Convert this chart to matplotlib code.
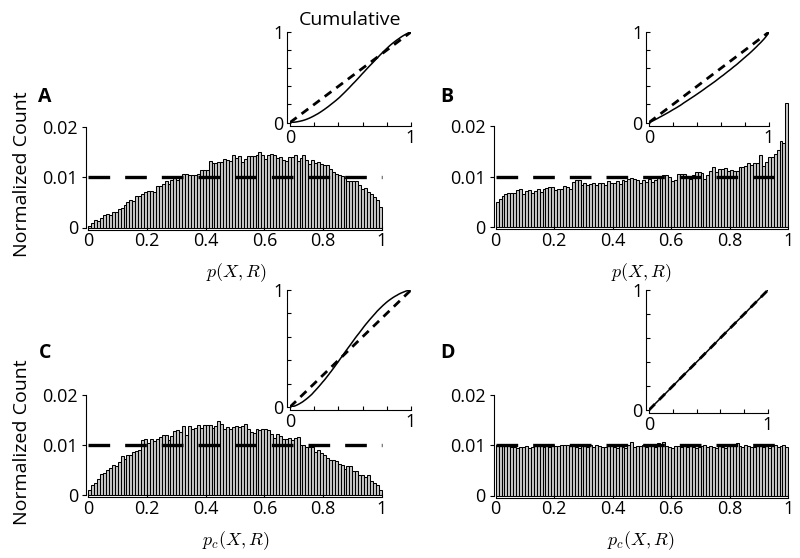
# гистограммы p(X,R) и p_c(X,R) со вставками кумулятивных распределений

import numpy as np
import matplotlib.pyplot as plt

plt.rcParams['font.family'] = ['Open Sans', 'DejaVu Sans']
plt.rcParams['mathtext.fontset'] = 'cm'

# значения столбцов (ширина 0.01)
hist_a = [0.0003, 0.0009, 0.0014, 0.0013, 0.0018, 0.0024, 0.0026, 0.0025, 0.0031, 0.0031,
          0.0037, 0.0039, 0.0045, 0.0050, 0.0055, 0.0052, 0.0063, 0.0063, 0.0067, 0.0070,
          0.0073, 0.0073, 0.0071, 0.0083, 0.0083, 0.0087, 0.0092, 0.0087, 0.0094, 0.0098,
          0.0095, 0.0100, 0.0105, 0.0106, 0.0104, 0.0104, 0.0104, 0.0106, 0.0113, 0.0113,
          0.0114, 0.0131, 0.0128, 0.0127, 0.0129, 0.0130, 0.0135, 0.0134, 0.0132, 0.0144,
          0.0138, 0.0142, 0.0129, 0.0136, 0.0141, 0.0142, 0.0142, 0.0144, 0.0149, 0.0144,
          0.0136, 0.0143, 0.0146, 0.0143, 0.0138, 0.0140, 0.0134, 0.0131, 0.0139, 0.0140,
          0.0143, 0.0131, 0.0138, 0.0143, 0.0134, 0.0126, 0.0133, 0.0128, 0.0129, 0.0125,
          0.0124, 0.0123, 0.0116, 0.0110, 0.0106, 0.0104, 0.0102, 0.0098, 0.0092, 0.0092,
          0.0093, 0.0092, 0.0085, 0.0077, 0.0079, 0.0070, 0.0066, 0.0060, 0.0055, 0.0041]

hist_b = [0.0050, 0.0055, 0.0062, 0.0065, 0.0068, 0.0067, 0.0067, 0.0073, 0.0075, 0.0066,
          0.0072, 0.0073, 0.0068, 0.0072, 0.0076, 0.0070, 0.0075, 0.0077, 0.0080, 0.0079,
          0.0073, 0.0075, 0.0075, 0.0081, 0.0080, 0.0076, 0.0090, 0.0093, 0.0094, 0.0083,
          0.0087, 0.0083, 0.0085, 0.0087, 0.0083, 0.0087, 0.0087, 0.0083, 0.0092, 0.0088,
          0.0088, 0.0092, 0.0085, 0.0094, 0.0091, 0.0095, 0.0097, 0.0096, 0.0093, 0.0088,
          0.0093, 0.0090, 0.0096, 0.0090, 0.0093, 0.0101, 0.0100, 0.0102, 0.0102, 0.0100,
          0.0092, 0.0094, 0.0105, 0.0105, 0.0105, 0.0101, 0.0096, 0.0102, 0.0108, 0.0108,
          0.0106, 0.0096, 0.0103, 0.0111, 0.0118, 0.0108, 0.0115, 0.0114, 0.0116, 0.0110,
          0.0113, 0.0111, 0.0110, 0.0118, 0.0118, 0.0121, 0.0127, 0.0123, 0.0126, 0.0127,
          0.0142, 0.0121, 0.0129, 0.0138, 0.0139, 0.0144, 0.0153, 0.0170, 0.0165, 0.0245]

hist_c = [0.0010, 0.0020, 0.0025, 0.0032, 0.0042, 0.0045, 0.0050, 0.0055, 0.0060, 0.0059,
          0.0067, 0.0079, 0.0072, 0.0081, 0.0081, 0.0087, 0.0089, 0.0090, 0.0110, 0.0112,
          0.0104, 0.0113, 0.0109, 0.0113, 0.0117, 0.0120, 0.0121, 0.0110, 0.0119, 0.0128,
          0.0130, 0.0127, 0.0139, 0.0121, 0.0138, 0.0132, 0.0135, 0.0141, 0.0135, 0.0140,
          0.0141, 0.0141, 0.0135, 0.0139, 0.0149, 0.0142, 0.0133, 0.0137, 0.0133, 0.0137,
          0.0139, 0.0137, 0.0138, 0.0142, 0.0132, 0.0127, 0.0125, 0.0133, 0.0130, 0.0133,
          0.0132, 0.0130, 0.0123, 0.0115, 0.0123, 0.0118, 0.0113, 0.0112, 0.0115, 0.0110,
          0.0115, 0.0117, 0.0100, 0.0100, 0.0097, 0.0097, 0.0097, 0.0087, 0.0090, 0.0085,
          0.0081, 0.0075, 0.0070, 0.0070, 0.0069, 0.0063, 0.0061, 0.0052, 0.0059, 0.0059,
          0.0048, 0.0048, 0.0040, 0.0040, 0.0037, 0.0040, 0.0028, 0.0025, 0.0021, 0.0011]

hist_d = [0.0100, 0.0100, 0.0099, 0.0098, 0.0100, 0.0097, 0.0096, 0.0095, 0.0097, 0.0096,
          0.0098, 0.0094, 0.0097, 0.0100, 0.0098, 0.0099, 0.0097, 0.0100, 0.0096, 0.0101,
          0.0099, 0.0098, 0.0100, 0.0101, 0.0100, 0.0099, 0.0098, 0.0097, 0.0095, 0.0099,
          0.0098, 0.0096, 0.0100, 0.0097, 0.0101, 0.0098, 0.0097, 0.0096, 0.0098, 0.0100,
          0.0097, 0.0095, 0.0099, 0.0096, 0.0094, 0.0100, 0.0107, 0.0097, 0.0099, 0.0098,
          0.0100, 0.0096, 0.0098, 0.0099, 0.0097, 0.0104, 0.0101, 0.0106, 0.0099, 0.0097,
          0.0095, 0.0099, 0.0098, 0.0097, 0.0100, 0.0096, 0.0098, 0.0097, 0.0095, 0.0096,
          0.0098, 0.0101, 0.0097, 0.0099, 0.0096, 0.0094, 0.0098, 0.0097, 0.0095, 0.0099,
          0.0098, 0.0100, 0.0105, 0.0099, 0.0097, 0.0101, 0.0098, 0.0096, 0.0097, 0.0098,
          0.0102, 0.0097, 0.0099, 0.0095, 0.0098, 0.0100, 0.0097, 0.0099, 0.0101, 0.0096]

letters = ['A', 'B', 'C', 'D']
xlabels = [r'$p(X,R)$', r'$p(X,R)$', r'$p_c(X,R)$', r'$p_c(X,R)$']
main_ticks = [0, 0.2, 0.4, 0.6, 0.8, 1]
main_ticklabels = ['0', '0.2', '0.4', '0.6', '0.8', '1']
y_ticks = [0, 0.01, 0.02]
y_ticklabels = ['0', '0.01', '0.02']
uniform_level = 0.01

W, H = 800, 558
fig = plt.figure(figsize=(W / 100, H / 100), dpi=100)


def px_axes(x0, x1, y0, y1):
    # x0, x1 - пиксели для x=0 и x=1; y0, y1 - пиксели для нижнего и верхнего края
    return fig.add_axes([x0 / W, (H - y0) / H, (x1 - x0) / W, (y0 - y1) / H])


main_boxes = [(88.3, 381.7, 227.5, 126.5), (495.7, 788.3, 227.3, 125.7),
              (88.3, 381.7, 495, 395), (495.7, 788.3, 495.5, 395)]
inset_boxes = [(290, 411, 122.5, 32), (649, 769, 122.5, 32),
               (290, 411, 407, 290), (649, 768, 410, 290)]
letter_pos = [(45, 97), (447, 97), (45, 353), (447, 353)]
xlabel_pos = [(236, 273), (641, 273), (236, 541), (641, 541)]

edges = np.linspace(0, 1, 101)
centers = edges[:-1] + 0.005

for k, vals in enumerate([hist_a, hist_b, hist_c, hist_d]):
    ax = px_axes(*main_boxes[k])
    ax.bar(centers, vals, width=0.01, color='#c8c8c8', edgecolor='black',
           linewidth=0.75, clip_on=False)
    ax.plot([0, 1], [uniform_level, uniform_level], color='black', lw=2.4,
            dashes=(6.5, 4.5), clip_on=False)
    ax.set_xlim(0, 1)
    ax.set_ylim(0, 0.02)
    for s in ['top', 'right']:
        ax.spines[s].set_visible(False)
    ax.spines['left'].set_position(('outward', 1.5))
    ax.spines['bottom'].set_position(('outward', 1.5))
    ax.spines['left'].set_bounds(0, 0.02)
    ax.spines['bottom'].set_bounds(0, 1)
    ax.set_xticks(main_ticks)
    ax.set_xticklabels(main_ticklabels, fontsize=13)
    ax.set_yticks(y_ticks)
    ax.set_yticklabels(y_ticklabels, fontsize=13)
    ax.tick_params(axis='x', direction='in', length=3, pad=2)
    ax.tick_params(axis='y', direction='out', length=3, pad=3)
    ax.patch.set_alpha(0)

    fig.text(letter_pos[k][0] / W, 1 - letter_pos[k][1] / H, letters[k],
             fontsize=14, fontweight='bold', ha='center', va='center')
    fig.text(xlabel_pos[k][0] / W, 1 - xlabel_pos[k][1] / H, xlabels[k],
             fontsize=13, ha='center', va='center')
    if k % 2 == 0:
        cy = (main_boxes[k][2] + main_boxes[k][3]) / 2 - 3
        fig.text(22 / W, 1 - cy / H, 'Normalized Count', fontsize=14,
                 rotation=90, ha='center', va='center')

    # вставка: кумулятивное распределение
    cum = np.concatenate([[0], np.cumsum(vals)]) / np.sum(vals)
    ins = px_axes(*inset_boxes[k])
    ins.plot(edges, cum, color='black', lw=1.1)
    ins.plot([0, 1], [0, 1], color='black', lw=2.0, dashes=(3, 2.2))
    ins.set_xlim(0, 1)
    ins.set_ylim(0, 1)
    for s in ['top', 'right']:
        ins.spines[s].set_visible(False)
    ins.spines['left'].set_position(('outward', 2.5))
    ins.spines['bottom'].set_position(('outward', 2.5))
    ins.set_xticks(np.linspace(0, 1, 6))
    ins.set_xticklabels(['0', '', '', '', '', '1'], fontsize=13)
    ins.set_yticks(np.linspace(0, 1, 6))
    ins.set_yticklabels(['0', '', '', '', '', '1'], fontsize=13)
    ins.tick_params(direction='in', length=3, pad=2)
    ins.patch.set_alpha(0)
    if k == 0:
        ins.set_title('Cumulative', fontsize=14, pad=5)

fig.savefig('out.png', dpi=100)
